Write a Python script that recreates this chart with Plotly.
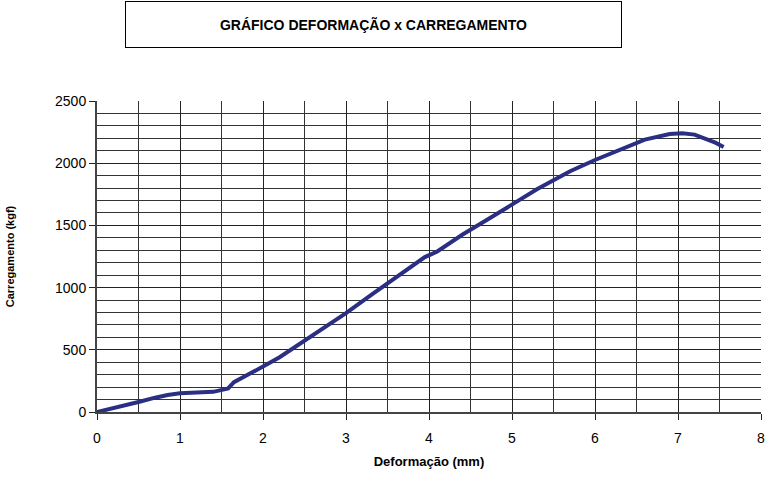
import plotly.graph_objects as go

# Load-deformation curve
deformacao = [0, 0.1, 0.3, 0.5, 0.7, 0.85, 1.0, 1.2, 1.4, 1.52, 1.58, 1.65, 1.8, 2.0,
              2.2, 2.5, 2.8, 3.0, 3.3, 3.6, 3.85, 3.95, 4.1, 4.4, 4.7, 5.0, 5.3, 5.6,
              5.7, 6.0, 6.3, 6.6, 6.9, 7.05, 7.2, 7.35, 7.45, 7.55]
carga = [0, 15, 45, 80, 115, 137, 150, 155, 162, 180, 190, 240, 290, 365,
         440, 570, 700, 795, 940, 1085, 1205, 1245, 1290, 1425, 1545, 1672, 1790, 1900,
         1935, 2026, 2110, 2190, 2235, 2240, 2230, 2195, 2165, 2130]

titulo = "GRÁFICO DEFORMAÇÃO x CARREGAMENTO"
titulo_x = "Deformação (mm)"
titulo_y = "Carregamento (kgf)"

FONT = "Arial, 'Liberation Sans', sans-serif"

fig = go.Figure()
fig.add_trace(go.Scatter(
    x=deformacao, y=carga, mode="lines",
    line=dict(color="#2B2F84", width=4),
    showlegend=False, hoverinfo="skip",
))

fig.update_layout(
    width=773, height=477,
    margin=dict(l=97, r=8, t=101, b=65),
    paper_bgcolor="white", plot_bgcolor="white",
    font=dict(family=FONT, size=14, color="black"),
    annotations=[dict(
        text="<b>" + titulo + "</b>",
        xref="paper", yref="paper",
        x=(375.5 - 97) / 668, y=(412 - 24) / 311,
        xanchor="center", yanchor="middle",
        showarrow=False, width=493, height=43,
        bordercolor="black", borderwidth=1, borderpad=1,
        bgcolor="white",
        font=dict(family=FONT, size=14, color="black"),
    )],
)

fig.update_xaxes(
    range=[0, 8], dtick=1, tick0=0,
    showgrid=True, gridcolor="#222222", gridwidth=1,
    minor=dict(dtick=0.5, showgrid=True, gridcolor="#333333", gridwidth=1),
    showline=True, linecolor="#444444", linewidth=2,
    ticks="outside", ticklen=6, tickcolor="#222222",
    ticklabelstandoff=6,
    zeroline=False,
    title=dict(text="<b>" + titulo_x + "</b>", standoff=12,
               font=dict(family=FONT, size=13)),
)
fig.update_yaxes(
    range=[0, 2500], dtick=500, tick0=0,
    showgrid=True, gridcolor="#222222", gridwidth=1,
    minor=dict(dtick=100, showgrid=True, gridcolor="#333333", gridwidth=1),
    showline=True, linecolor="#444444", linewidth=2,
    ticks="outside", ticklen=6, tickcolor="#222222",
    zeroline=False,
    title=dict(text="<b>" + titulo_y + "</b>", standoff=38,
               font=dict(family=FONT, size=11)),
)

fig.write_html("out.html")
